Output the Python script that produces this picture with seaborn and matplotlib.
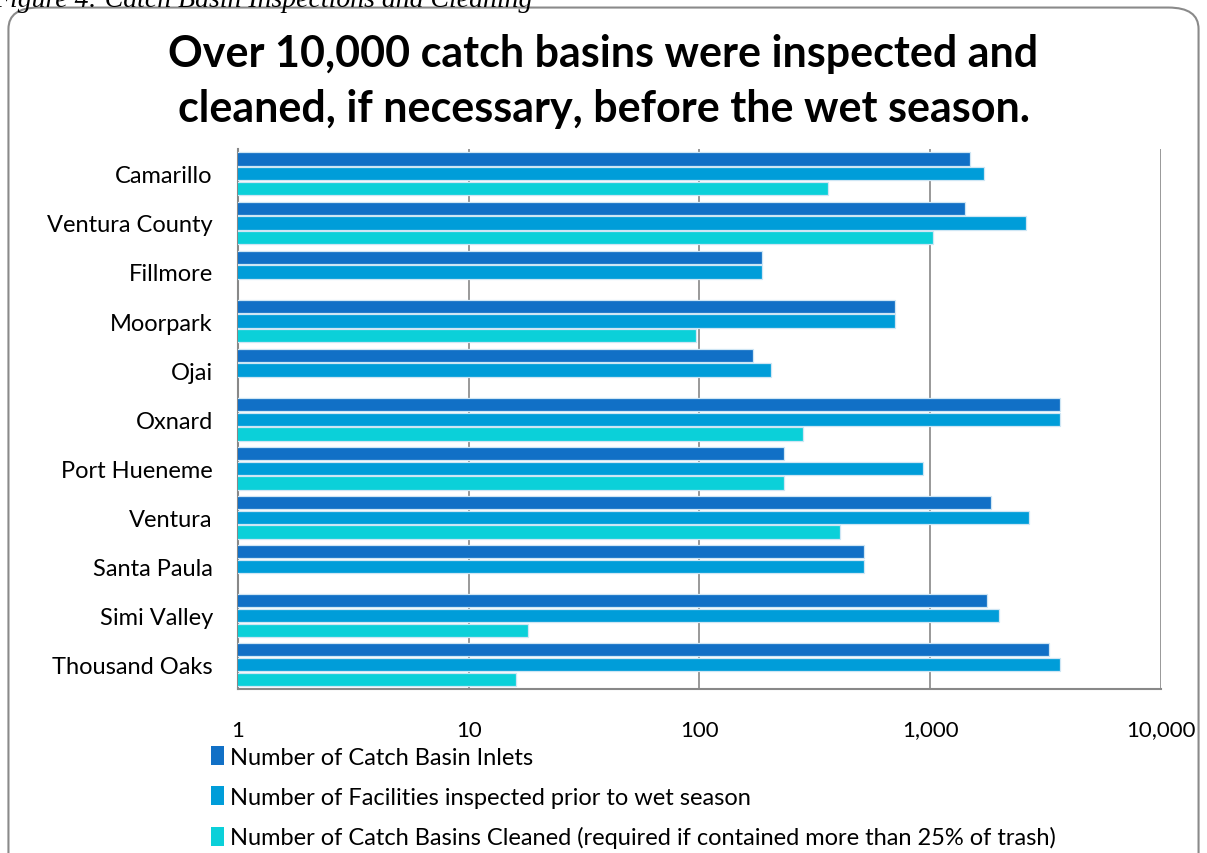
import matplotlib
matplotlib.use("Agg")
import matplotlib.pyplot as plt
from matplotlib.patches import FancyBboxPatch, Patch
import numpy as np
import pandas as pd
import seaborn as sns

# values (log axis)
cities = ["Camarillo", "Ventura County", "Fillmore", "Moorpark", "Ojai", "Oxnard",
          "Port Hueneme", "Ventura", "Santa Paula", "Simi Valley", "Thousand Oaks"]
inlets = [1480, 1410, 187, 703, 171, 3650, 233, 1835, 518, 1760, 3280]
inspected = [1710, 2610, 187, 703, 205, 3650, 931, 2690, 518, 1980, 3650]
cleaned = [359, 1026, np.nan, 97, np.nan, 281, 233, 405, np.nan, 18, 16]

series = ["Number of Catch Basin Inlets",
          "Number of Facilities inspected prior to wet season",
          "Number of Catch Basins Cleaned (required if contained more than 25% of trash)"]
colors = ["#1170C6", "#009DD9", "#0BD0D9"]
x_ticks = [1, 10, 100, 1000, 10000]
x_labels = ["1", "10", "100", "1,000", "10,000"]

df = pd.DataFrame({"city": cities * 3,
                   "value": inlets + inspected + cleaned,
                   "series": np.repeat(series, len(cities))})

sns.set_style("white")
plt.rcParams["font.family"] = ["Lato", "DejaVu Sans"]
plt.rcParams["text.color"] = "black"

fig = plt.figure(figsize=(12.07, 8.54), dpi=100)
ax = fig.add_axes([0.197, 0.192, 0.765, 0.632])

sns.barplot(data=df, x="value", y="city", hue="series", order=cities,
            hue_order=series, palette=colors, saturation=1, orient="h",
            width=0.9, gap=0.1, edgecolor="#cfe6f4", linewidth=0.9,
            legend=False, ax=ax, zorder=3)

# log axis applied after drawing so the bars keep their base at the left edge
ax.set_xscale("log")
ax.set_xlim(1, 10000)
ax.set_ylim(len(cities) - 0.5, -0.5)
ax.set_xticks(x_ticks)
ax.set_xticklabels(x_labels)
ax.xaxis.set_minor_locator(matplotlib.ticker.NullLocator())
ax.tick_params(axis="x", length=0, labelsize=16, pad=22, labelcolor="black")
ax.tick_params(axis="y", length=0, labelsize=17, pad=18, labelcolor="black")
ax.set_yticks(np.arange(-0.5, len(cities)), minor=True)
ax.tick_params(axis="y", which="minor", length=5, width=1.2, color="#888888")
ax.set_xlabel("")
ax.set_ylabel("")
ax.grid(axis="x", which="major", color="#888888", linewidth=1.2, zorder=0)
ax.set_axisbelow(True)
for side in ["top", "right"]:
    ax.spines[side].set_visible(False)
for side in ["left", "bottom"]:
    ax.spines[side].set_color("#888888")
    ax.spines[side].set_linewidth(1.5)

fig.text(0.5, 0.905, "Over 10,000 catch basins were inspected and\n"
         "cleaned, if necessary, before the wet season.",
         ha="center", va="center", fontsize=31, fontweight="bold", linespacing=1.45)

# figure caption from the source document, clipped by the top edge like the original
fig.text(-0.006, 0.999, "Figure 4: Catch Basin Inspections and Cleaning", ha="left",
         va="center", fontsize=20, style="italic",
         family=["Liberation Serif", "DejaVu Serif"])

handles = [Patch(facecolor=c, edgecolor="none") for c in colors]
fig.legend(handles, series, loc="upper left", bbox_to_anchor=(0.175, 0.125),
           frameon=False, fontsize=17, handlelength=0.55, handleheight=0.85,
           handletextpad=0.25, labelspacing=0.78, borderaxespad=0, borderpad=0)

border = FancyBboxPatch((0.007, -0.05), 0.986, 1.04, transform=fig.transFigure,
                        boxstyle="round,pad=0,rounding_size=0.025",
                        facecolor="none", edgecolor="#8a8a8a", linewidth=1.5)
fig.patches.append(border)

fig.savefig("out.png", dpi=100)
